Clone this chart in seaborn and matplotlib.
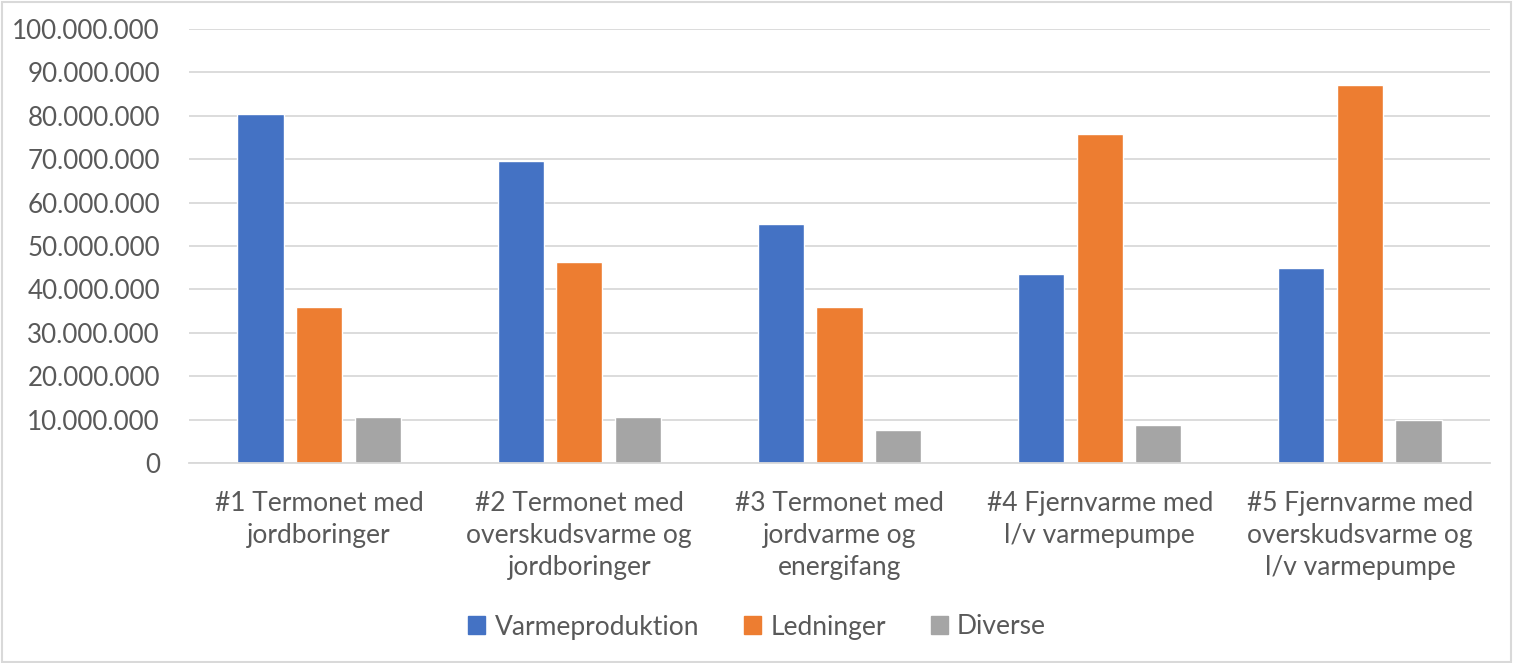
import matplotlib
matplotlib.use("Agg")
import matplotlib.pyplot as plt
import matplotlib.ticker as mticker
from matplotlib.patches import Rectangle
import seaborn as sns
import pandas as pd

CATEGORIES = [
    "#1 Termonet med\njordboringer",
    "#2 Termonet med\noverskudsvarme og\njordboringer",
    "#3 Termonet med\njordvarme og\nenergifang",
    "#4 Fjernvarme med\nl/v varmepumpe",
    "#5 Fjernvarme med\noverskudsvarme og\nl/v varmepumpe",
]
SERIES = ["Varmeproduktion", "Ledninger", "Diverse"]
VARMEPRODUKTION = [80_400_000, 69_600_000, 55_100_000, 43_500_000, 44_900_000]
LEDNINGER = [35_900_000, 46_300_000, 35_900_000, 75_800_000, 87_100_000]
DIVERSE = [10_600_000, 10_600_000, 7_600_000, 8_800_000, 9_900_000]
COLORS = ["#4472C4", "#ED7D31", "#A5A5A5"]

rows = []
for name, vals in zip(SERIES, [VARMEPRODUKTION, LEDNINGER, DIVERSE]):
    for cat, v in zip(CATEGORIES, vals):
        rows.append({"cat": cat, "series": name, "value": v})
df = pd.DataFrame(rows)

sns.set_style("white")
plt.rcParams["font.family"] = ["Lato", "DejaVu Sans"]
text_col = "#595959"

fig = plt.figure(figsize=(15.14, 6.63), dpi=100)
ax = fig.add_axes([189 / 1514, 1 - 463 / 663, 1301 / 1514, 434 / 663])

sns.barplot(data=df, x="cat", y="value", hue="series", palette=COLORS,
            width=0.675, gap=0.21, ax=ax, legend=False, saturation=1)

ax.set_ylim(0, 100_000_000)
ax.set_xlim(-0.5, 4.5)
ax.yaxis.set_major_locator(mticker.MultipleLocator(10_000_000))
ax.yaxis.set_major_formatter(
    mticker.FuncFormatter(lambda v, p: f"{int(v):,}".replace(",", ".")))
ax.grid(axis="y", color="#D9D9D9", linewidth=1.3)
ax.set_axisbelow(True)
for s in ["top", "right", "left"]:
    ax.spines[s].set_visible(False)
ax.spines["bottom"].set_color("#D9D9D9")
ax.spines["bottom"].set_linewidth(1.3)
ax.set_xlabel("")
ax.set_ylabel("")
ax.tick_params(axis="y", length=0, pad=21, labelsize=18.7, labelcolor=text_col)
ax.tick_params(axis="x", length=0, pad=20, labelsize=19, labelcolor=text_col)
for lbl in ax.get_xticklabels():
    lbl.set_linespacing(1.35)

handles = [Rectangle((0, 0), 1, 1, color=c) for c in COLORS]
fig.legend(handles, SERIES, loc="center", bbox_to_anchor=(0.5, 1 - 627 / 663),
           ncol=3, frameon=False, fontsize=19, labelcolor=text_col,
           handlelength=0.65, handleheight=0.65, handletextpad=0.35,
           columnspacing=1.7)

fig.patches.append(Rectangle((0.001, 0.002), 0.997, 0.995, transform=fig.transFigure,
                             fill=False, edgecolor="#D9D9D9", linewidth=1.5))

fig.savefig("out.png", dpi=100)
